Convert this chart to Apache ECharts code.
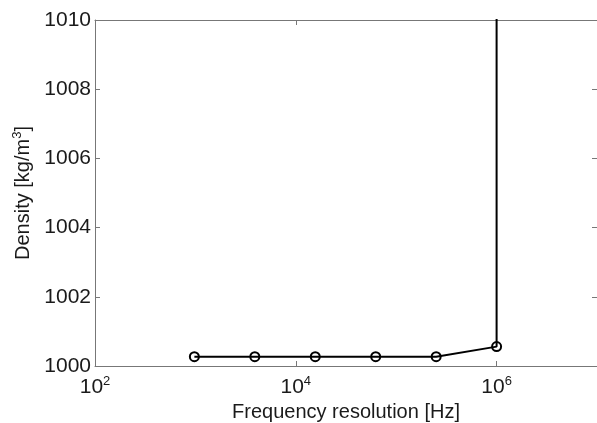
<!DOCTYPE html>
<html>
<head>
<meta charset="utf-8">
<script src="https://cdn.jsdelivr.net/npm/echarts@6/dist/echarts.min.js"></script>
<style>
  html, body { margin: 0; padding: 0; background: #fff; }
  #chart { width: 597px; height: 423px; }
</style>
</head>
<body>
<div id="chart"></div>
<script>
// frequency resolution [Hz] and density [kg/m^3]
const freqs = [976.5625, 3906.25, 15625, 62500, 250000, 1000000];
const density = [1000.27, 1000.27, 1000.27, 1000.27, 1000.27, 1000.56];
// the curve leaves the top of the axes at the last resolution
const jumpFreq = 1000000;
const jumpDensity = 1100;

const axisGrey = '#777';
const textCol = '#1a1a1a';
const fontFam = '"Liberation Sans", Arial, sans-serif';

const pts = freqs.map((f, i) => [f, density[i]]);
pts.push({ value: [jumpFreq, jumpDensity], symbol: 'none' });

const supRich = {
  base: { fontSize: 21, fontFamily: fontFam, color: textCol },
  sup: { fontSize: 13, fontFamily: fontFam, color: textCol, verticalAlign: 'top', padding: [0, 0, 12, 0] }
};

function expLabel(v) {
  const e = Math.round(Math.log10(v));
  if (e % 2 !== 0 || e > 6) return '';
  return '{base|10}{sup|' + e + '}';
}

const chart = echarts.init(document.getElementById('chart'));

chart.setOption({
  animation: false,
  backgroundColor: '#fff',
  grid: {
    left: 95, top: 20, width: 502, height: 346,
    containLabel: false,
    outerBoundsMode: 'none'
  },
  xAxis: [
    {
      type: 'log',
      min: 100,
      max: 1e7,
      logBase: 10,
      interval: 2,
      position: 'bottom',
      name: 'Frequency resolution [Hz]',
      nameLocation: 'middle',
      nameGap: 36,
      nameTextStyle: { fontSize: 20, fontFamily: fontFam, color: textCol },
      axisLine: { lineStyle: { color: axisGrey, width: 1 } },
      axisTick: { inside: true, length: 5, lineStyle: { color: axisGrey } },
      minorTick: { show: false },
      splitLine: { show: false },
      axisLabel: {
        formatter: expLabel,
        rich: supRich,
        margin: 9,
        showMaxLabel: false
      }
    },
    {
      type: 'log',
      min: 100,
      max: 1e7,
      logBase: 10,
      interval: 2,
      position: 'top',
      axisLine: { lineStyle: { color: axisGrey, width: 1 } },
      axisTick: { inside: true, length: 5, lineStyle: { color: axisGrey } },
      axisLabel: { show: false },
      splitLine: { show: false }
    }
  ],
  yAxis: [
    {
      type: 'value',
      min: 1000,
      max: 1010,
      interval: 2,
      position: 'left',
      name: '{base|Density [kg/m}{sup|3}{base|]}',
      nameLocation: 'middle',
      nameGap: 55,
      nameRotate: 90,
      nameTextStyle: {
        rich: {
          base: { fontSize: 20, fontFamily: fontFam, color: textCol },
          sup: { fontSize: 13, fontFamily: fontFam, color: textCol, verticalAlign: 'top', padding: [0, 0, 11, 0] }
        }
      },
      axisLine: { show: true, lineStyle: { color: axisGrey, width: 1 } },
      axisTick: { show: true, inside: true, length: 5, lineStyle: { color: axisGrey } },
      splitLine: { show: false },
      axisLabel: {
        fontSize: 21,
        fontFamily: fontFam,
        color: textCol,
        margin: 4,
        formatter: v => String(v)
      }
    },
    {
      type: 'value',
      min: 1000,
      max: 1010,
      interval: 2,
      position: 'right',
      axisLine: { show: true, lineStyle: { color: axisGrey, width: 1 } },
      axisTick: { show: true, inside: true, length: 5, lineStyle: { color: axisGrey } },
      axisLabel: { show: false },
      splitLine: { show: false }
    }
  ],
  series: [
    {
      type: 'line',
      xAxisIndex: 0,
      yAxisIndex: 0,
      data: pts,
      clip: true,
      symbol: 'circle',
      symbolSize: 9,
      showAllSymbol: true,
      lineStyle: { color: '#000', width: 2 },
      itemStyle: { color: 'none', borderColor: '#000', borderWidth: 2 },
      emphasis: { disabled: true }
    }
  ]
});
</script>
</body>
</html>
